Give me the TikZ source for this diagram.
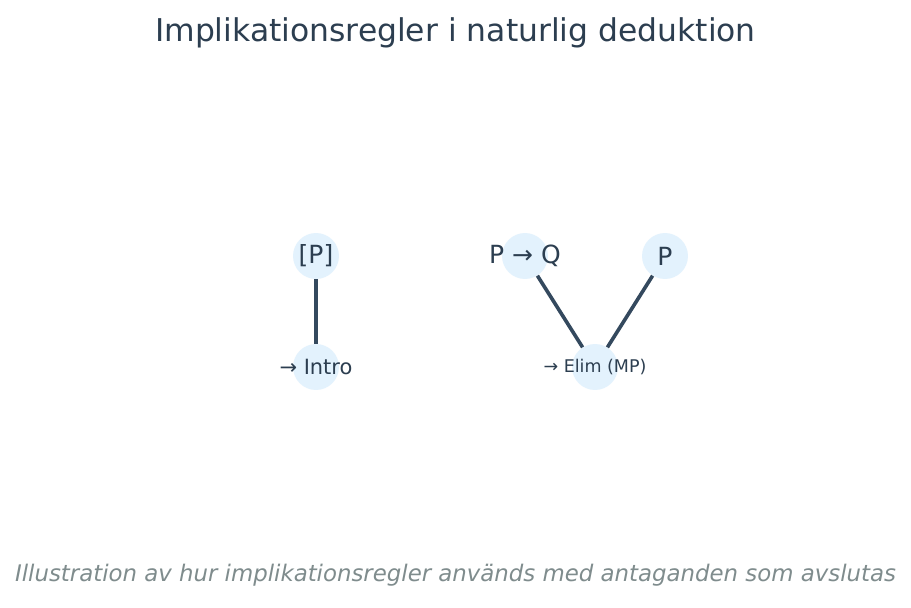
\documentclass[tikz,border=0pt]{standalone}
\usepackage{fontspec}
\setmainfont{DejaVu Sans}
\definecolor{txt}{HTML}{2C3E50}
\definecolor{edge}{HTML}{34495E}
\definecolor{nodefill}{HTML}{E3F2FD}
\definecolor{foot}{HTML}{7F8C8D}
\tikzset{
  rule/.style={circle, fill=nodefill, minimum size=33.1pt, inner sep=0pt},
  lbl/.style={text=txt, inner sep=0pt},
  conn/.style={draw=edge, line width=2.6pt}
}
\begin{document}
\begin{tikzpicture}[x=0.72pt, y=-0.72pt]
\useasboundingbox (0,0) rectangle (911,607);
\fill[white] (0,0) rectangle (911,607);
\node[lbl, font=\fontsize{22.6pt}{26pt}\selectfont] (title) at (455.5,33) {Implikationsregler i naturlig deduktion};
% nodes
\node[rule] (p1) at (316,256) {};
\node[rule] (intro) at (316,367) {};
\node[rule] (pq) at (525,256) {};
\node[rule] (p2) at (665,256) {};
\node[rule] (elim) at (595,367) {};
% connectors
\draw[conn] (p1) -- (intro);
\draw[conn] (pq) -- (elim);
\draw[conn] (p2) -- (elim);
% labels
\node[lbl, font=\fontsize{18pt}{21pt}\selectfont] (p1t) at (p1) {[P]};
\node[lbl, font=\fontsize{15.1pt}{18pt}\selectfont] (introt) at (intro) {→ Intro};
\node[lbl, font=\fontsize{18pt}{21pt}\selectfont] (pqt) at (pq) {P → Q};
\node[lbl, font=\fontsize{18pt}{21pt}\selectfont] (p2t) at (p2) {P};
\node[lbl, font=\fontsize{12.6pt}{15pt}\selectfont] (elimt) at (elim) {→ Elim (MP)};
\node[text=foot, inner sep=0pt, font=\fontsize{16.45pt}{19pt}\selectfont\itshape] (footer) at (455.5,575) {Illustration av hur implikationsregler används med antaganden som avslutas};
\end{tikzpicture}
\end{document}
